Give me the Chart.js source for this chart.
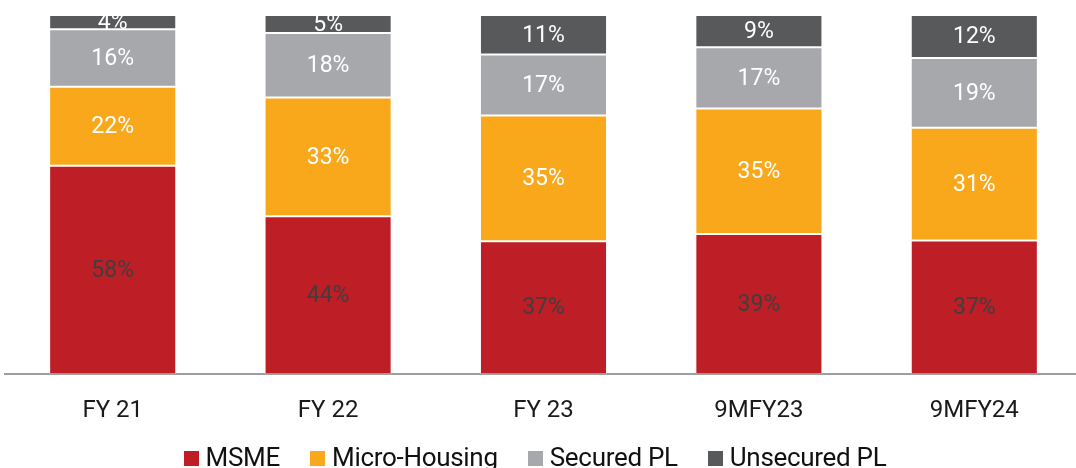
<!DOCTYPE html>
<html lang="en">
<head>
  <meta charset="UTF-8">
  <title>Portfolio Mix</title>
  <style>
    body {
      margin: 0;
      background: #ffffff;
      overflow: hidden;
      font-family: Roboto, Arial, sans-serif;
    }
    #wrap {
      position: relative;
      width: 1082px;
      height: 468px;
    }
    #legend {
      position: absolute;
      left: 0;
      top: 444px;
      width: 1070px;
      display: flex;
      justify-content: center;
      font-size: 26px;
      line-height: 26px;
      letter-spacing: -0.3px;
      color: #111111;
    }
    #legend .item {
      display: flex;
      align-items: center;
      margin: 0 15px;
      white-space: nowrap;
    }
    #legend .box {
      width: 15px;
      height: 15px;
      margin-right: 7px;
      margin-top: 2px;
    }
  </style>
  <script src="https://cdn.jsdelivr.net/npm/chart.js"></script>
</head>
<body>
  <div id="wrap">
    <canvas id="mixChart"></canvas>
    <div id="legend"></div>
  </div>

  <script>
    // categories and series (share of book, %)
    var categories = ["FY 21", "FY 22", "FY 23", "9MFY23", "9MFY24"];
    var msme = [58, 44, 37, 39, 37.2];
    var microHousing = [22, 33, 35, 35, 31.4];
    var securedPL = [16, 18, 17, 17, 19.4];
    var unsecuredPL = [4, 5, 11, 9, 12];

    var seriesNames = ["MSME", "Micro-Housing", "Secured PL", "Unsecured PL"];
    var seriesColors = ["#be1e25", "#f9a81c", "#a6a8ab", "#58595b"];
    var labelColors = ["#3f3f3f", "#ffffff", "#ffffff", "#ffffff"];

    // draws the % value in the middle of each segment
    var segmentLabels = {
      id: "segmentLabels",
      afterDatasetsDraw: function(chart) {
        var ctx = chart.ctx;
        ctx.save();
        ctx.font = "400 23px Roboto";
        ctx.textAlign = "center";
        ctx.textBaseline = "middle";
        chart.data.datasets.forEach(function(ds, i) {
          var meta = chart.getDatasetMeta(i);
          meta.data.forEach(function(bar, j) {
            var p = bar.getProps(["x", "y", "base"], true);
            ctx.fillStyle = labelColors[i];
            ctx.fillText(Math.round(ds.data[j]) + "%", p.x, (p.y + p.base) / 2 + 1);
          });
        });
        ctx.restore();
      }
    };

    var datasets = [msme, microHousing, securedPL, unsecuredPL].map(function(vals, i) {
      return {
        label: seriesNames[i],
        data: vals,
        backgroundColor: seriesColors[i],
        borderColor: "rgba(255,255,255,0.3)",
        borderWidth: 1,
        borderSkipped: false,
        barPercentage: 1,
        categoryPercentage: 0.59
      };
    });

    var chart = new Chart(document.getElementById("mixChart"), {
      type: "bar",
      data: { labels: categories, datasets: datasets },
      plugins: [segmentLabels],
      options: {
        responsive: true,
        maintainAspectRatio: false,
        animation: false,
        layout: { padding: { left: 5, top: 15, right: 0, bottom: 29 } },
        plugins: {
          tooltip: { enabled: false },
          legend: { display: false }
        },
        scales: {
          x: {
            stacked: true,
            grid: { display: false },
            border: { display: true, color: "#9e9e9e", width: 2 },
            ticks: {
              color: "#1a1a1a",
              padding: 14,
              font: { family: "Roboto", size: 24 }
            }
          },
          y: {
            stacked: true,
            display: false,
            min: 0,
            max: 100
          }
        }
      }
    });

    // html legend built from the dataset names / colours
    var legendEl = document.getElementById("legend");
    chart.data.datasets.forEach(function(ds) {
      var item = document.createElement("div");
      item.className = "item";
      var box = document.createElement("span");
      box.className = "box";
      box.style.background = ds.backgroundColor;
      item.appendChild(box);
      item.appendChild(document.createTextNode(ds.label));
      legendEl.appendChild(item);
    });
  </script>
</body>
</html>
